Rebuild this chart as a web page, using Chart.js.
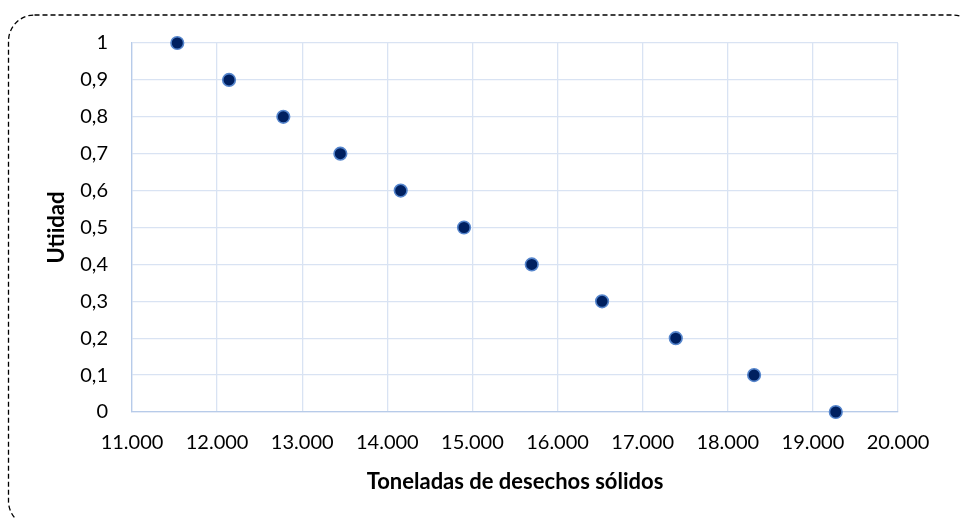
<!DOCTYPE html>
<html>
<head>
<meta charset="utf-8">
<script src="https://cdn.jsdelivr.net/npm/chart.js@4/dist/chart.umd.min.js"></script>
<style>
  html, body { margin: 0; padding: 0; background: #fff; }
  #wrap { position: relative; width: 960px; height: 518px; }
</style>
</head>
<body>
<div id="wrap"><canvas id="c" width="960" height="518"></canvas></div>
<script>
// Data
const toneladas = [11532, 12140, 12778, 13448, 14157, 14901, 15697, 16523, 17389, 18309, 19269];
const utilidad  = [1, 0.9, 0.8, 0.7, 0.6, 0.5, 0.4, 0.3, 0.2, 0.1, 0];
const xTickLabels = ['11.000','12.000','13.000','14.000','15.000','16.000','17.000','18.000','19.000','20.000'];
const yTickLabels = ['0','0,1','0,2','0,3','0,4','0,5','0,6','0,7','0,8','0,9','1'];
const xTitle = 'Toneladas de desechos sólidos';
const yTitle = 'Utiidad';

const points = toneladas.map((x, i) => ({ x: x, y: utilidad[i] }));

const FONT = 'Lato, "Open Sans", sans-serif';

const frame = {
  id: 'frame',
  afterDraw(chart) {
    const ctx = chart.ctx;
    ctx.save();
    ctx.strokeStyle = '#000';
    ctx.lineWidth = 1.3;
    ctx.setLineDash([5, 3]);
    const x = 8.5, y = 15, w = 970, h = 512, r = 26;
    ctx.beginPath();
    ctx.moveTo(x + r, y);
    ctx.lineTo(x + w - r, y);
    ctx.arcTo(x + w, y, x + w, y + r, r);
    ctx.lineTo(x + w, y + h - r);
    ctx.arcTo(x + w, y + h, x + w - r, y + h, r);
    ctx.lineTo(x + r, y + h);
    ctx.arcTo(x, y + h, x, y + h - r, r);
    ctx.lineTo(x, y + r);
    ctx.arcTo(x, y, x + r, y, r);
    ctx.closePath();
    ctx.stroke();
    ctx.restore();
  }
};

new Chart(document.getElementById('c'), {
  type: 'scatter',
  data: {
    datasets: [{
      data: points,
      clip: false,
      pointRadius: 6.3,
      pointHoverRadius: 6.3,
      pointBackgroundColor: '#002060',
      pointBorderColor: '#5585cc',
      pointBorderWidth: 1.6
    }]
  },
  options: {
    responsive: false,
    animation: false,
    plugins: { legend: { display: false }, tooltip: { enabled: false } },
    layout: { padding: { left: 0, top: 43, right: 62, bottom: 0 } },
    scales: {
      x: {
        type: 'linear',
        min: 11000, max: 20000,
        afterBuildTicks(scale) {
          scale.ticks = xTickLabels.map((_, i) => ({ value: 11000 + i * 1000 }));
        },
        afterFit(scale) { scale.height = 518 - 412; },
        grid: { color: '#d9e3f3', lineWidth: 1.3, drawTicks: false },
        border: { color: '#b7cbe9', width: 1.3 },
        ticks: {
          padding: 19,
          color: '#000',
          font: { family: FONT, size: 20 },
          maxRotation: 0,
          autoSkip: false,
          callback: (v, i) => xTickLabels[i]
        },
        title: {
          display: true,
          text: xTitle,
          color: '#000',
          font: { family: FONT, size: 22, weight: 'bold' },
          padding: 23
        }
      },
      y: {
        type: 'linear',
        min: 0, max: 1,
        afterBuildTicks(scale) {
          scale.ticks = yTickLabels.map((_, i) => ({ value: i / 10 }));
        },
        afterFit(scale) { scale.width = 132; },
        grid: { color: '#d9e3f3', lineWidth: 1.3, drawTicks: false },
        border: { color: '#b7cbe9', width: 1.3 },
        ticks: {
          padding: 24,
          color: '#000',
          font: { family: FONT, size: 20 },
          autoSkip: false,
          callback: (v, i) => yTickLabels[i]
        },
        title: {
          display: true,
          text: yTitle,
          color: '#000',
          font: { family: FONT, size: 22, weight: 'bold' },
          padding: 44
        }
      }
    }
  },
  plugins: [frame]
});
</script>
</body>
</html>
